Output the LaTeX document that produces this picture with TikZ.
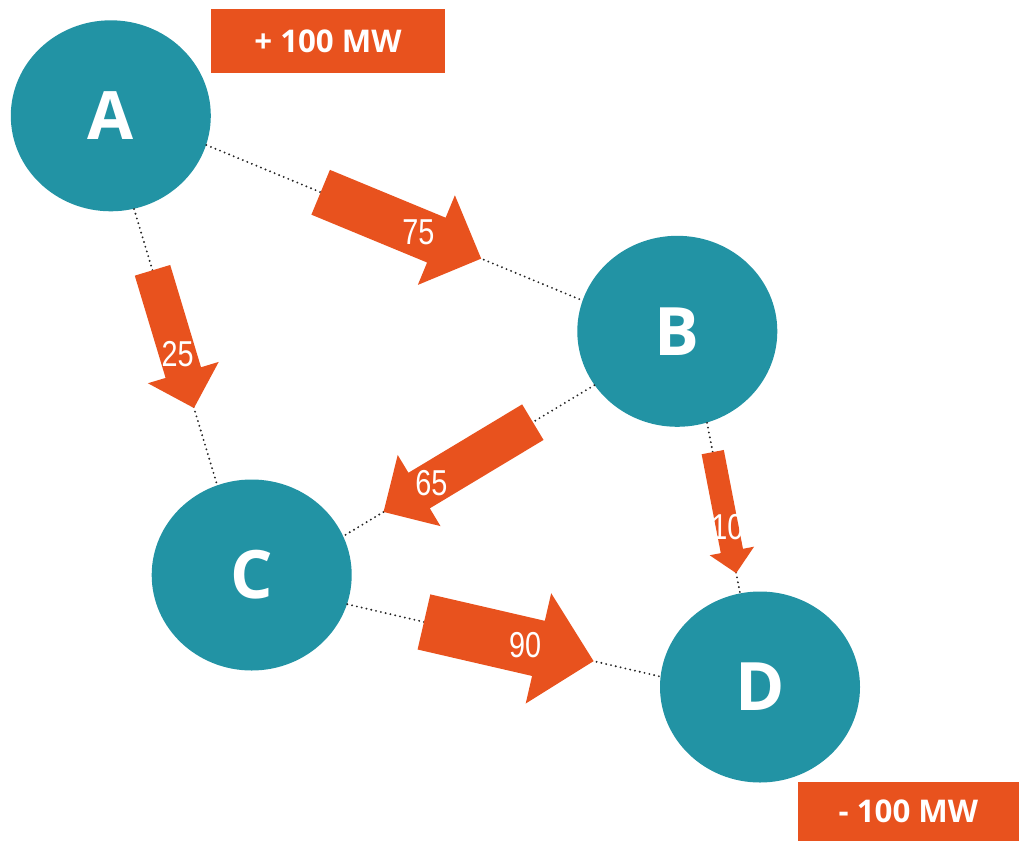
\documentclass[tikz,border=0pt]{standalone}
\usepackage{fontspec}
\setmainfont{Open Sans}
\newfontfamily\flownumfont[FakeStretch=0.8]{Liberation Sans}
\usepackage{tikz}
\usetikzlibrary{calc,shapes.geometric}
\definecolor{busteal}{HTML}{2293A4}
\definecolor{floworange}{HTML}{E8521E}
\tikzset{
  bus/.style    ={ellipse, fill=busteal, minimum width=40mm,
                  minimum height=38.2mm, inner sep=0pt, text=white,
                  font=\fontsize{38}{40}\selectfont\bfseries},
  link/.style   ={line width=1.2pt, dash pattern=on 0pt off 2.8pt,
                  line cap=round, black!85},
  flow/.style   ={fill=floworange},
  flowlbl/.style={text=white, inner sep=0pt,
                  font=\flownumfont\fontsize{20.5}{22}\selectfont},
  mwbox/.style  ={fill=floworange, text=white, inner sep=0pt,
                  font=\fontsize{17.8}{20}\selectfont\bfseries},
}
% block arrow on a link: from, to, start, end, half shaft, label, label pos
\newcommand{\flowarrow}[7]{%
  \pgfmathsetlengthmacro{\flowshaft}{#5}%
  \pgfmathsetlengthmacro{\flowbarb}{2*#5}%
  \coordinate (fs) at ($(#1)!#3!(#2)$);
  \coordinate (fe) at ($(#1)!#4!(#2)$);
  \coordinate (fh) at ($(fe)!\flowbarb!(fs)$);
  \fill[flow] ($(fs)!\flowshaft!90:(fe)$) -- ($(fh)!\flowshaft!90:(fe)$)
    -- ($(fh)!\flowbarb!90:(fe)$) -- (fe)
    -- ($(fh)!\flowbarb!-90:(fe)$) -- ($(fh)!\flowshaft!-90:(fe)$)
    -- ($(fs)!\flowshaft!-90:(fe)$) -- cycle;
  \node[flowlbl] (f#6) at ($(#1)!#7!(#2)$) {#6};
}

\begin{document}
\begin{tikzpicture}[x=0.2mm, y=-0.2mm]
  \useasboundingbox (0,0) rectangle (1019,841);
  \node[bus] (A) at (110.8,115.8) {A};
  \node[bus] (B) at (677.3,331.3) {B};
  \node[bus] (C) at (251.7,575) {C};
  \node[bus] (D) at (760,687) {D};
  \node[mwbox, minimum width=46.8mm, minimum height=12.8mm] (gen)
    at (328,41.3) {+ 100 MW};
  \node[mwbox, minimum width=44.3mm, minimum height=11.8mm] (load)
    at (908.4,811.7) {- 100 MW};
  % lines
  \draw[link] (A.-17) -- (B.162);
  \draw[link] (A.-76) -- (C.111);
  \draw[link] (B.-147) -- (C.23);
  \draw[link] (B.-72) -- (D.102);
  \draw[link] (C.-17) -- (D.174);
  % flows
  \flowarrow{A.-17}{B.162}{0.304}{0.731}{4.85mm}{75}{0.564}
  \flowarrow{A.-76}{C.111}{0.222}{0.721}{3.7mm}{25}{0.524}
  \flowarrow{B.-147}{C.23}{0.245}{0.840}{4.15mm}{65}{0.649}
  \flowarrow{B.-72}{D.102}{0.172}{0.883}{2.26mm}{10}{0.615}
  \flowarrow{C.-17}{D.174}{0.245}{0.787}{5.66mm}{90}{0.568}
\end{tikzpicture}
\end{document}
